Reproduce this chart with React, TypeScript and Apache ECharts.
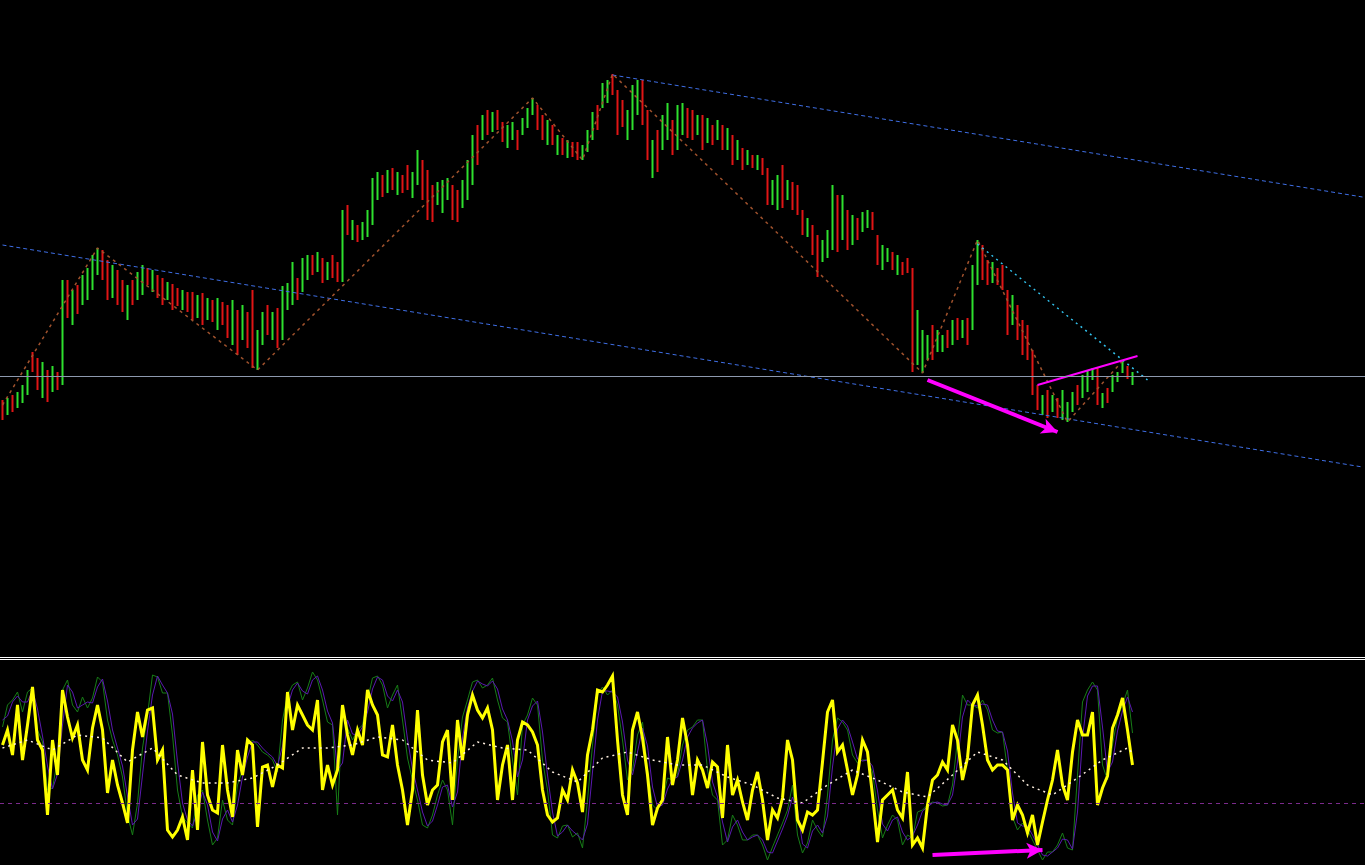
import React, { useEffect, useRef } from "react";
import * as echarts from "echarts";

// ---------- price pane (levels; axis is inverted, smaller = higher price) ----------
const barTop = [400,398,395,392,385,370,352,358,362,370,366,372,280,280,290,285,275,268,255,248,
250,260,265,270,280,285,280,272,265,268,270,275,278,282,284,288,290,292,292,295,
293,298,300,298,302,305,300,310,305,312,290,330,312,305,312,308,286,283,262,278,
258,255,255,252,258,262,255,262,210,205,220,225,222,210,178,172,175,170,168,172,
175,165,172,150,160,170,185,182,180,178,185,190,180,160,135,125,115,110,112,110,
122,125,122,130,118,108,98,105,115,120,125,135,138,140,142,142,145,130,112,105,
83,80,74,90,100,110,85,80,80,110,140,130,115,103,120,105,103,108,110,115,
115,118,125,120,125,128,135,140,148,150,155,155,158,168,180,175,165,180,182,185,
210,218,225,235,240,230,185,195,195,210,215,218,212,210,212,235,245,248,252,255,
262,258,268,310,330,335,325,330,335,330,320,318,320,318,265,240,245,260,262,268,
265,290,295,305,320,325,350,385,395,390,395,398,390,402,392,385,375,370,368,367,
393,388,375,372,361,366,372];
const barBot = [420,415,412,408,403,395,372,390,398,402,392,390,385,318,325,314,305,300,290,275,
280,300,298,305,312,320,305,300,295,285,292,298,305,300,310,306,310,312,320,318,
325,320,322,330,325,338,345,355,340,348,368,370,345,335,340,348,340,310,305,300,
292,280,275,272,283,280,278,282,282,235,240,242,240,237,225,200,197,193,190,195,
193,190,198,185,200,220,222,205,213,200,220,222,208,200,185,165,140,135,132,130,
142,148,140,150,135,128,115,130,140,145,145,155,155,158,157,160,160,152,140,130,
108,103,95,135,127,140,130,115,125,160,178,172,150,140,155,150,135,138,140,135,
150,143,145,140,150,150,165,160,170,165,168,170,175,205,205,210,208,200,210,215,
235,237,255,277,262,258,250,252,240,250,245,240,232,228,230,265,270,262,270,275,
275,273,372,365,373,360,360,352,352,348,345,340,338,345,330,285,280,285,283,285,
290,335,325,340,355,360,395,410,415,418,412,418,420,422,412,405,398,392,380,405,
408,403,392,382,373,379,385];
const barUp = [0,1,0,1,1,1,0,0,1,0,1,0,1,0,1,0,1,1,1,1,
0,0,1,0,0,1,0,1,1,0,1,0,0,1,0,0,1,0,0,1,
0,1,0,1,0,0,1,0,1,0,0,1,1,0,1,0,1,1,1,0,
1,1,0,1,0,1,0,0,1,0,1,0,1,1,1,1,0,1,0,1,
0,0,1,1,0,0,0,1,1,1,0,0,1,1,1,0,1,0,1,0,
0,1,1,0,1,1,1,0,0,1,0,1,0,1,0,0,1,1,1,0,
1,1,0,0,0,1,1,1,0,0,1,0,1,1,0,1,1,0,0,1,
0,1,0,1,0,1,0,1,0,1,0,1,0,0,1,1,0,1,0,0,
0,1,0,0,1,1,1,0,1,0,1,0,1,1,0,0,1,1,0,1,
0,0,0,1,1,1,0,1,1,0,1,0,1,0,1,1,0,0,1,0,
0,0,1,0,0,0,0,0,1,0,1,0,1,1,1,0,1,1,1,0,
1,0,1,1,1,0,1];

const zigzag = [[0,405],[19,248],[51,370],[106,98],[116,160],[122,74],[184,373],[195,240],[213,422],[224,361]];
const channelUpper = [[122,75],[272,197]];
const channelLower = [[0,245],[272,467]];
const cyanLine = [[195,244],[229,380]];
const wedgeLine = [[207,385],[227,356]];
const levelLine = 376;
const priceArrow = [[185,380],[211,432]];

// ---------- oscillator pane ----------
const yellowOsc = [745,730,755,705,760,725,687,740,750,815,740,775,690,717,738,725,760,770,728,705,
730,793,760,785,803,823,750,712,737,710,708,760,750,830,837,830,817,840,770,830,
742,795,810,813,745,790,817,750,775,740,745,827,767,765,787,765,768,692,730,705,
715,725,730,700,790,765,785,770,705,735,755,730,745,690,705,715,755,757,725,765,
790,825,790,710,775,805,790,785,742,730,800,720,760,715,695,710,718,708,730,800,
765,745,800,740,722,725,732,745,790,815,822,818,790,800,770,783,812,755,730,690,
692,685,676,740,795,815,730,712,738,775,825,808,800,737,785,760,718,745,795,760,
770,788,762,767,818,745,795,780,802,820,790,772,800,840,810,818,798,740,760,820,
830,812,815,810,762,712,700,752,745,770,795,775,740,752,795,842,800,795,790,810,
818,772,845,838,848,805,780,775,762,770,725,740,780,758,705,695,725,760,770,765,
765,770,820,805,815,833,815,845,822,800,780,750,785,800,752,720,735,735,712,805,
788,776,728,715,698,730,765];
const greenOsc = [727,705,700,692,712,692,688,730,742,790,788,760,690,680,705,712,697,708,698,677,
682,720,740,755,777,815,835,803,748,715,675,677,693,693,735,790,817,823,828,795,
790,820,845,838,800,820,825,785,770,745,740,745,752,755,760,772,720,695,685,682,
700,688,672,680,700,722,725,815,712,728,740,730,725,700,678,676,685,708,695,685,
720,758,780,800,825,828,815,795,780,790,825,760,717,700,682,680,688,685,678,700,
718,722,760,795,725,715,698,705,760,790,835,838,826,825,837,833,848,800,745,695,
687,695,690,705,740,780,770,735,722,770,805,810,800,778,780,775,745,730,727,720,
720,770,795,800,845,840,815,825,840,840,835,835,845,860,847,835,823,810,785,835,
853,843,820,830,837,795,740,718,722,730,755,763,760,760,772,810,838,825,815,820,
845,835,838,812,810,805,802,803,806,805,785,740,695,705,705,708,700,710,730,733,
732,770,817,830,823,830,840,850,860,852,852,845,833,848,850,775,702,690,682,690,
765,780,745,717,705,690,733];
const purpleOsc = [720,716,702,696,702,702,690,709,736,766,789,774,725,685,692,708,705,702,703,687,
679,701,730,748,766,796,825,819,775,731,695,676,685,693,714,762,803,820,826,811,
792,805,832,841,819,810,822,805,777,757,742,742,748,753,757,766,746,707,690,683,
691,694,680,676,690,711,723,770,763,720,734,735,727,712,689,677,680,696,701,690,
702,739,769,790,812,826,821,805,787,785,807,792,738,708,691,681,684,686,681,689,
709,720,741,777,760,720,706,701,732,775,812,836,832,825,831,835,840,824,772,720,
691,691,692,697,722,760,775,752,728,746,787,807,805,789,779,777,760,737,728,723,
720,745,782,797,822,842,827,820,832,840,837,835,840,852,853,841,829,816,797,810,
844,848,831,825,833,816,767,729,720,726,742,759,761,760,766,791,824,831,820,817,
832,840,836,825,811,807,803,802,804,805,795,762,717,700,705,706,704,705,720,731,
732,751,793,823,826,826,835,845,855,856,852,848,839,840,849,812,738,696,686,686,
727,772,762,731,711,697,712];
const signalIdx = [0,5,10,15,20,25,30,35,40,45,50,55,60,65,70,75,80,85,90,95,100,105,110,115,120,125,130,135,140,145,150,155,160,165,170,175,180,185,190,195,200,205,210,215,220,225,226];
const signalVals = [748,740,750,735,738,762,748,775,783,783,778,765,748,748,745,737,740,760,763,742,748,750,772,782,758,752,760,765,765,777,785,798,803,785,770,780,792,797,775,752,760,785,795,778,760,748,753];
const oscLevel = 803;
const oscArrow = [[186,855],[208,850]];

const SLOTS = 273;

export default function App() {
  const ref = useRef<HTMLDivElement>(null);
  useEffect(() => {
    if (!ref.current) return;
    const chart = echarts.init(ref.current, null, { renderer: "svg" });
    const cats = Array.from({ length: SLOTS }, (_, i) => String(i));
    const candles = barTop.map((t, i) =>
      barUp[i] ? [barBot[i], t, t, barBot[i]] : [t, barBot[i], t, barBot[i]]
    );
    const signal = signalIdx.map((x, i) => [x, signalVals[i]]);
    const lineBase = { type: "line", showSymbol: false, symbol: "none", silent: true };
    chart.setOption({
      animation: false,
      backgroundColor: "#000000",
      grid: [
        { left: 0, right: 0, top: 0, height: 655, containLabel: false, outerBoundsMode: "none" },
        { left: 0, right: 0, top: 661, height: 204, containLabel: false, outerBoundsMode: "none" },
      ],
      xAxis: [
        { type: "category", data: cats, gridIndex: 0, show: false, boundaryGap: true },
        { type: "category", data: cats, gridIndex: 1, show: false, boundaryGap: true },
      ],
      yAxis: [
        { type: "value", gridIndex: 0, min: 0, max: 655, inverse: true, show: false, splitLine: { show: false } },
        { type: "value", gridIndex: 1, min: 661, max: 865, inverse: true, show: false, splitLine: { show: false } },
      ],
      graphic: [
        { type: "rect", shape: { x: 0, y: 657, width: 1365, height: 1 }, style: { fill: "#ffffff" }, silent: true },
        { type: "rect", shape: { x: 0, y: 659, width: 1365, height: 1 }, style: { fill: "#ffffff" }, silent: true },
      ],
      series: [
        {
          ...lineBase,
          data: channelUpper,
          lineStyle: { color: "#3f6fe6", width: 1, type: [4, 3] },
        },
        {
          ...lineBase,
          data: channelLower,
          lineStyle: { color: "#3f6fe6", width: 1, type: [4, 3] },
        },
        {
          ...lineBase,
          data: zigzag,
          lineStyle: { color: "#a0522d", width: 1.5, type: [3, 4] },
        },
        {
          type: "candlestick",
          data: candles,
          barWidth: 2,
          silent: true,
          itemStyle: { color: "#e01515", color0: "#2ee02e", borderColor: "#e01515", borderColor0: "#2ee02e", borderWidth: 0 },
          markLine: {
            silent: true,
            animation: false,
            symbol: "none",
            label: { show: false },
            lineStyle: { color: "#8d99ae", width: 1, type: "solid" },
            data: [{ yAxis: levelLine }],
          },
        },
        {
          ...lineBase,
          data: cyanLine,
          lineStyle: { color: "#33c4f0", width: 1.5, type: [2, 4] },
        },
        {
          ...lineBase,
          data: wedgeLine,
          lineStyle: { color: "#ff00ff", width: 2 },
          markLine: {
            silent: true,
            animation: false,
            label: { show: false },
            symbol: ["none", "arrow"],
            symbolSize: [12, 16],
            lineStyle: { color: "#ff00ff", width: 4, type: "solid" },
            data: [[{ coord: priceArrow[0] }, { coord: priceArrow[1] }]],
          },
        },
        {
          ...lineBase,
          xAxisIndex: 1,
          yAxisIndex: 1,
          data: greenOsc,
          lineStyle: { color: "#177d17", width: 1 },
          markLine: {
            silent: true,
            animation: false,
            label: { show: false },
            symbol: "none",
            lineStyle: { color: "#7b2a8c", width: 1, type: [4, 4] },
            data: [{ yAxis: oscLevel }],
          },
        },
        {
          ...lineBase,
          xAxisIndex: 1,
          yAxisIndex: 1,
          data: purpleOsc,
          lineStyle: { color: "#5a1ab0", width: 1 },
        },
        {
          ...lineBase,
          xAxisIndex: 1,
          yAxisIndex: 1,
          data: yellowOsc,
          lineStyle: { color: "#ffff00", width: 3, join: "miter" },
          markLine: {
            silent: true,
            animation: false,
            label: { show: false },
            symbol: ["none", "arrow"],
            symbolSize: [12, 16],
            lineStyle: { color: "#ff00ff", width: 4, type: "solid" },
            data: [[{ coord: oscArrow[0] }, { coord: oscArrow[1] }]],
          },
        },
        {
          ...lineBase,
          xAxisIndex: 1,
          yAxisIndex: 1,
          data: signal,
          lineStyle: { color: "#fff0e0", width: 1.5, type: [2, 4] },
        },
      ],
    });
    return () => chart.dispose();
  }, []);
  return (
    <div
      ref={ref}
      style={{ position: "fixed", left: 0, top: 0, width: 1365, height: 865, background: "#000000" }}
    />
  );
}
